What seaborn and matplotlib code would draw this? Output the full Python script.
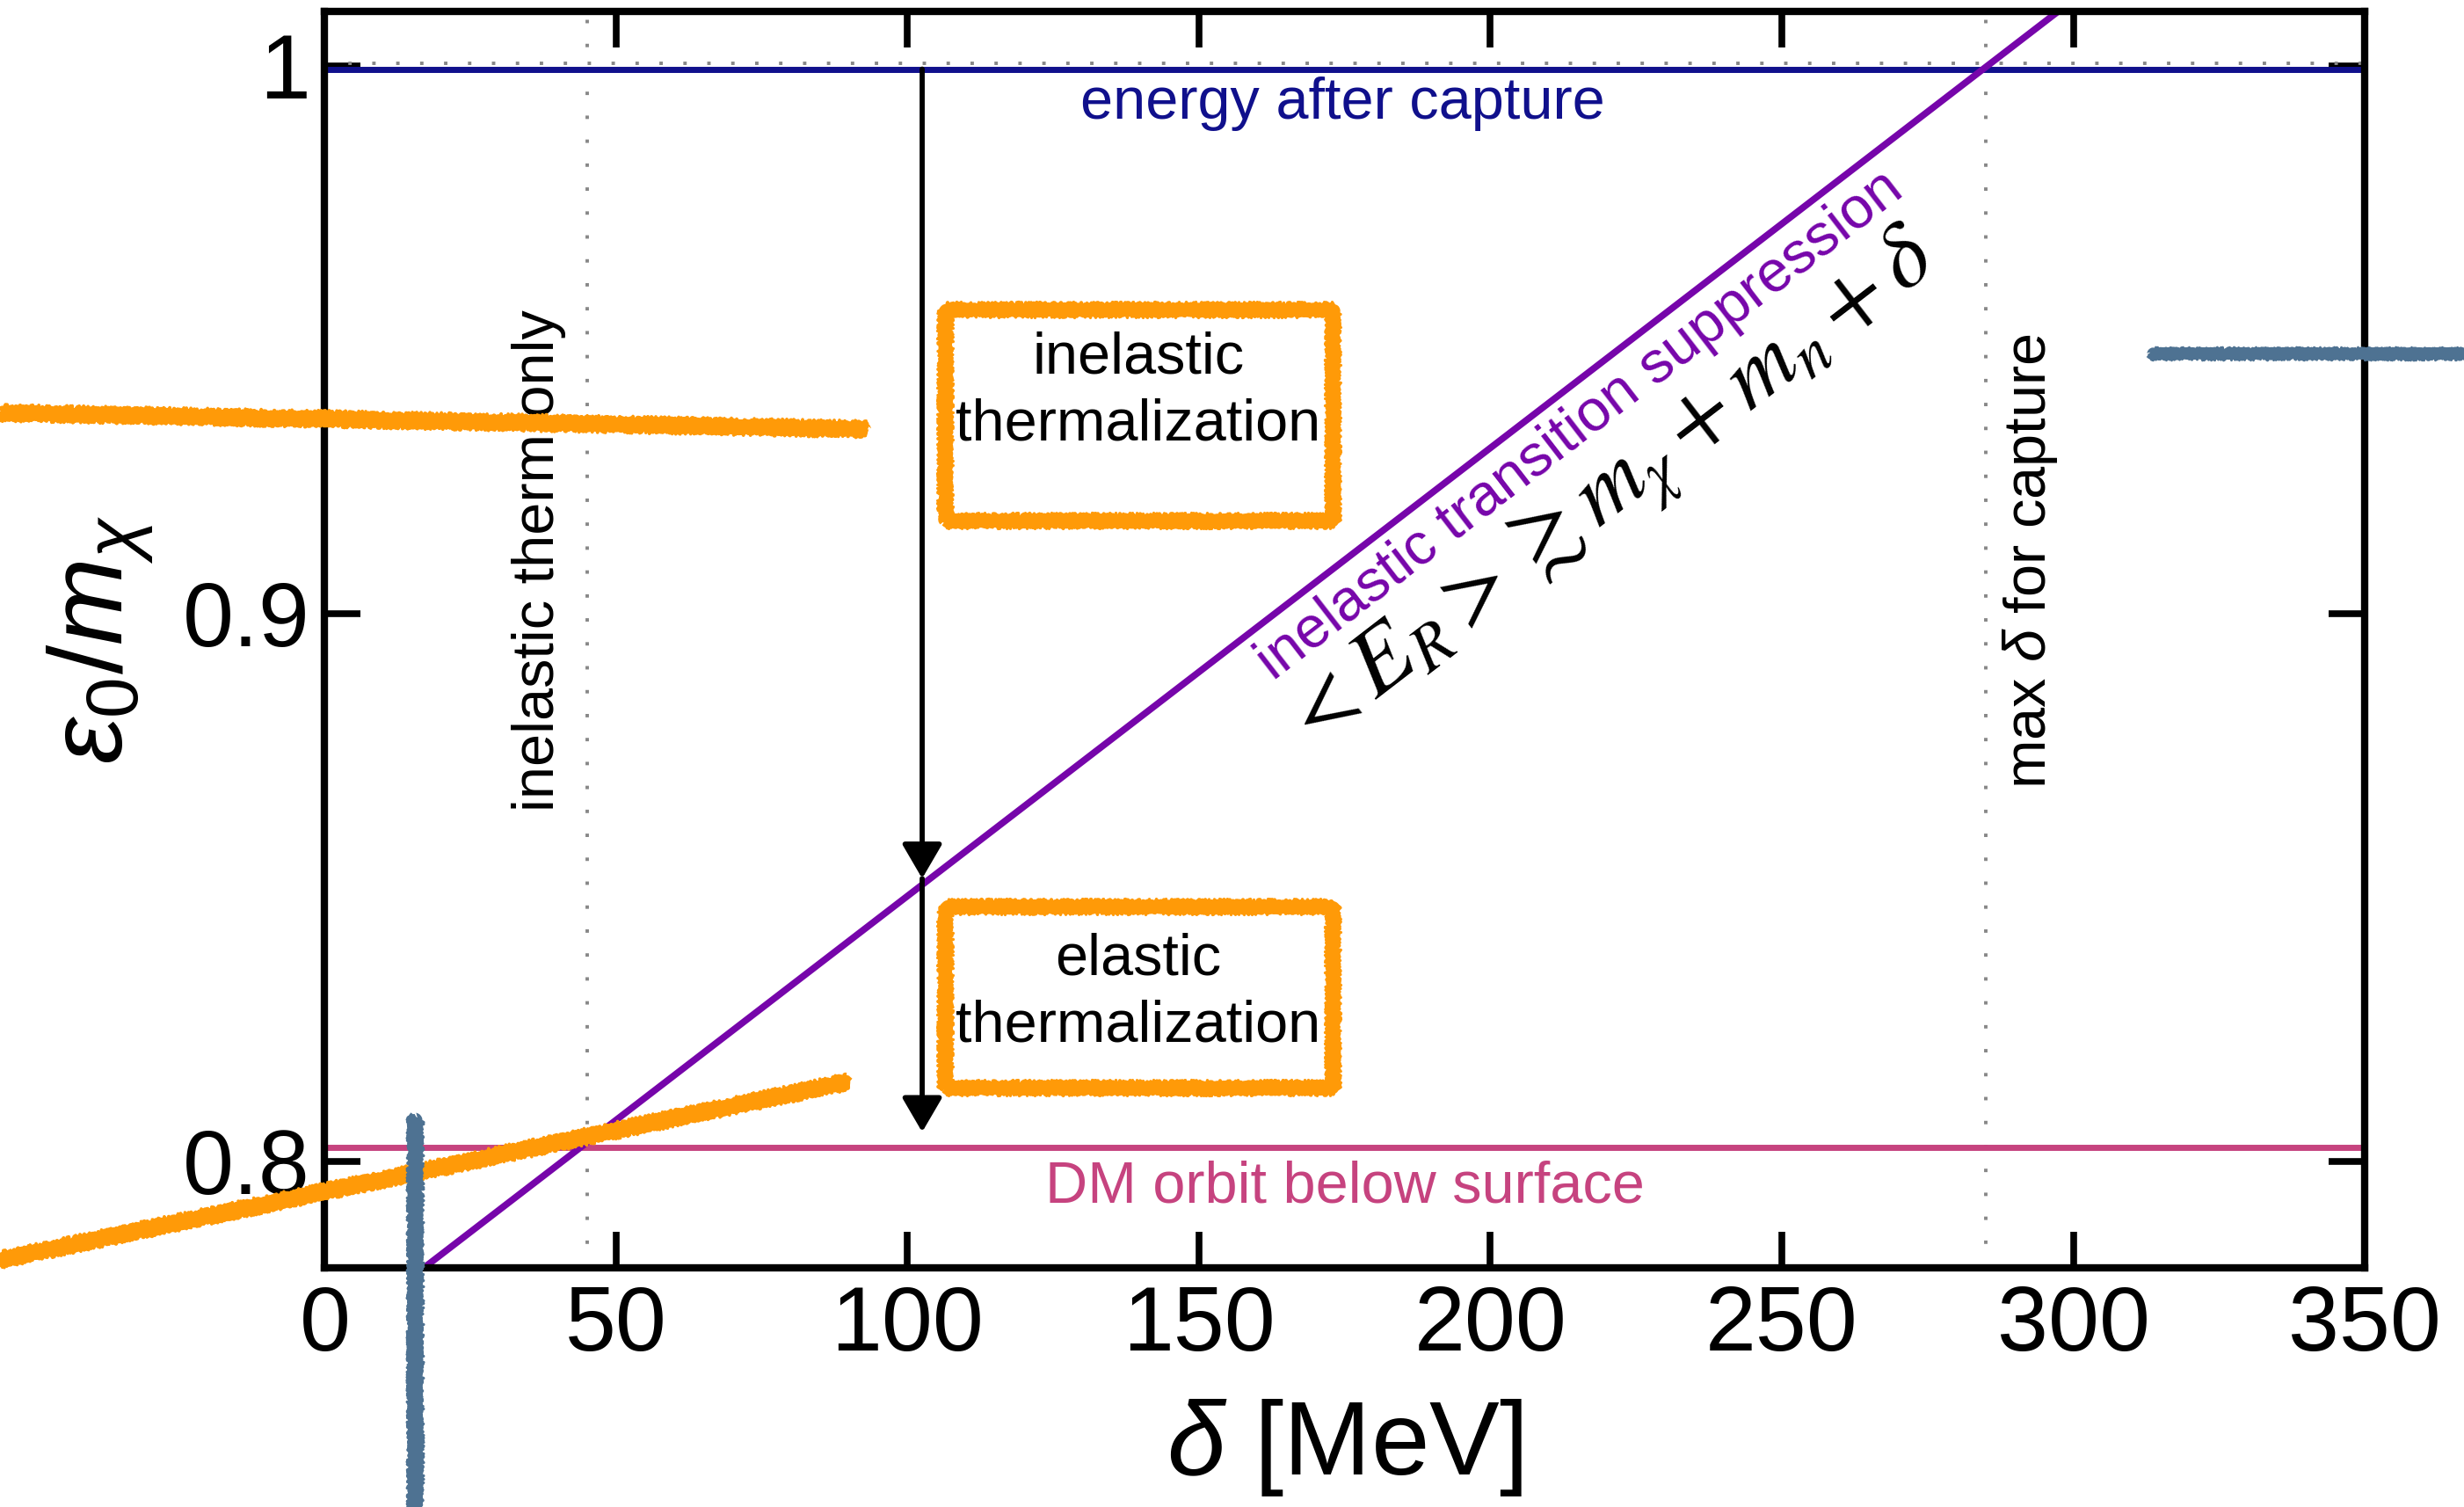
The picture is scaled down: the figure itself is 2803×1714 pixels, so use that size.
import numpy as np
import pandas as pd
import matplotlib
matplotlib.use("Agg")
import matplotlib.pyplot as plt
import seaborn as sns

# ---------------- data ----------------
x_ticks = [0, 50, 100, 150, 200, 250, 300, 350]
y_ticks = [0.8, 0.9, 1.0]
y_tick_labels = ["0.8", "0.9", "1"]

# horizontal reference levels
energy_after_capture_x = [0, 350]
energy_after_capture_y = [0.9994, 0.9994]
orbit_below_surface_x = [0, 350]
orbit_below_surface_y = [0.8025, 0.8025]
top_dotted_x = [0, 350]
top_dotted_y = [1.0004, 1.0004]

# inelastic transition suppression line
suppression_x = [17.0, 297.5]
suppression_y = [0.7805, 1.0100]

# vertical dotted markers
inelastic_only_delta = 45.0
max_capture_delta = 285.0

# arrow (thermalization path)
arrow_delta = 102.5
arrow_levels = [0.9994, 0.8516, 0.8053]

# sketchy strokes (orange and steel blue)
orange_a_x = [-60.0, 93.1]
orange_a_y = [0.9367, 0.93364]
orange_b_x = [-60.0, 89.8]
orange_b_y = [0.7810, 0.8145]
steel_v_x = [15.45, 15.45]
steel_v_y = [0.8083, 0.720]
steel_h_x = [313.0, 372.0]
steel_h_y = [0.9475, 0.9475]

# boxes: (x0, x1, y0, y1)
box_inelastic = (106.4, 172.9, 0.91695, 0.95547)
box_elastic = (106.4, 172.9, 0.81339, 0.84645)

NAVY = "#10108c"
MAGENTA = "#c6437f"
PURPLE = "#7605aa"
ORANGE = "#ff9a08"
STEEL = "#4e7292"
GRAY = "#888888"

sns.set_theme(style="ticks")
plt.rcParams["font.family"] = ["Liberation Sans", "DejaVu Sans"]
plt.rcParams["mathtext.fontset"] = "custom"
plt.rcParams["mathtext.rm"] = "Liberation Sans"
plt.rcParams["mathtext.it"] = "Liberation Sans:italic"
plt.rcParams["mathtext.bf"] = "Liberation Sans:bold"
plt.rcParams["mathtext.sf"] = "Liberation Sans"
for k in ["text.color", "axes.labelcolor", "xtick.color", "ytick.color",
          "xtick.labelcolor", "ytick.labelcolor", "axes.edgecolor"]:
    plt.rcParams[k] = "black"

fig = plt.figure(figsize=(28.03, 17.14), dpi=100)
ax = fig.add_axes([0.1318, 0.1587, 0.8279, 0.834])
ax.set_xlim(0, 350)
ax.set_ylim(0.7805, 1.0100)

# dotted guides
DOT = (0, (1.0, 6.0))
ax.plot(top_dotted_x, top_dotted_y, color=GRAY, linewidth=2.8, linestyle=DOT, zorder=1)
for xv in [inelastic_only_delta, max_capture_delta]:
    ax.axvline(xv, color=GRAY, linewidth=2.8, linestyle=DOT, zorder=1)

# main lines
df_top = pd.DataFrame({"x": energy_after_capture_x, "y": energy_after_capture_y})
df_bot = pd.DataFrame({"x": orbit_below_surface_x, "y": orbit_below_surface_y})
df_sup = pd.DataFrame({"x": suppression_x, "y": suppression_y})
for d, c, w in [(df_top, NAVY, 5.0), (df_bot, MAGENTA, 5.0), (df_sup, PURPLE, 5.5)]:
    sns.lineplot(data=d, x="x", y="y", ax=ax, color=c, zorder=2)
    ax.lines[-1].set_linewidth(w)

# arrows
arrow_kw = dict(arrowstyle="-|>,head_length=1.2,head_width=0.7", mutation_scale=20,
                linewidth=4.2, color="black", shrinkA=0, shrinkB=0)
for y_from, y_to in zip(arrow_levels[:-1], arrow_levels[1:]):
    ax.annotate("", xy=(arrow_delta, y_to), xytext=(arrow_delta, y_from),
                arrowprops=arrow_kw, zorder=3)


def sketchy(xs, ys, color, lw, clip=False, z=7):
    layers = [(lw * 0.75, (2.0, 5.0, 3.0)),
              (lw * 0.3, (lw * 0.55, 2.5, 6.0)),
              (lw * 0.25, (lw * 0.65, 2.0, 8.0)),
              (lw * 0.2, (lw * 0.75, 1.5, 10.0)),
              (lw * 0.2, (lw * 0.5, 3.0, 5.0))]
    for w, sp in layers:
        ln, = ax.plot(xs, ys, color=color, linewidth=w, clip_on=clip, zorder=z,
                      solid_capstyle="butt")
        ln.set_sketch_params(*sp)


sketchy(orange_a_x, orange_a_y, ORANGE, 13.0)
sketchy(orange_b_x, orange_b_y, ORANGE, 13.0)
sketchy(steel_v_x, steel_v_y, STEEL, 12.5)
sketchy(steel_h_x, steel_h_y, STEEL, 10.0)

for (x0, x1, y0, y1) in [box_inelastic, box_elastic]:
    sketchy([x0, x1, x1, x0, x0], [y0, y0, y1, y1, y0], ORANGE, 12.0, clip=True, z=4)

# texts
TXT = 48
ax.text(139.6, 0.9405, "inelastic\nthermalization", ha="center", va="center",
        fontsize=TXT, linespacing=1.3, zorder=5)
ax.text(139.6, 0.8307, "elastic\nthermalization", ha="center", va="center",
        fontsize=TXT, linespacing=1.3, zorder=5)
ax.text(174.7, 0.9930, "energy after capture", ha="center", va="center",
        fontsize=TXT, color=NAVY)
ax.text(175.0, 0.7952, "DM orbit below surface", ha="center", va="center",
        fontsize=TXT, color=MAGENTA)
ax.text(36.7, 0.9096, "inelastic therm only", rotation=90, ha="center", va="center",
        fontsize=TXT)
ax.text(292.6, 0.9096, r"max $\delta$ for capture", rotation=90, ha="center", va="center",
        fontsize=TXT)
ax.text(215.5, 0.9343, "inelastic transition suppression", rotation=37.6,
        rotation_mode="anchor", ha="center", va="center", fontsize=TXT, color=PURPLE)
ax.text(220.6, 0.9215, r"$<E_R>\gtrsim m_\chi+m_n+\delta$", rotation=37.6,
        rotation_mode="anchor", ha="center", va="center", fontsize=76,
        math_fontfamily="stix", color="black")

# axes styling
ax.set_xticks(x_ticks)
ax.set_xticklabels([str(v) for v in x_ticks])
ax.set_yticks(y_ticks)
ax.set_yticklabels(y_tick_labels)
ax.tick_params(direction="in", length=29.5, width=5.5, labelsize=75,
               top=True, right=True, color="black", labelcolor="black")
ax.tick_params(axis="x", pad=14)
ax.tick_params(axis="y", pad=12)
for sp in ax.spines.values():
    sp.set_visible(True)
    sp.set_linewidth(6)
    sp.set_color("black")
    sp.set_zorder(6)
ax.grid(False)
ax.set_xlabel(r"$\delta$ [MeV]", fontsize=86, labelpad=22, color="black")
ax.set_ylabel(r"$\varepsilon_0/m_\chi$", fontsize=86, labelpad=22, color="black")

fig.savefig("out.png", dpi=100, facecolor="white")
